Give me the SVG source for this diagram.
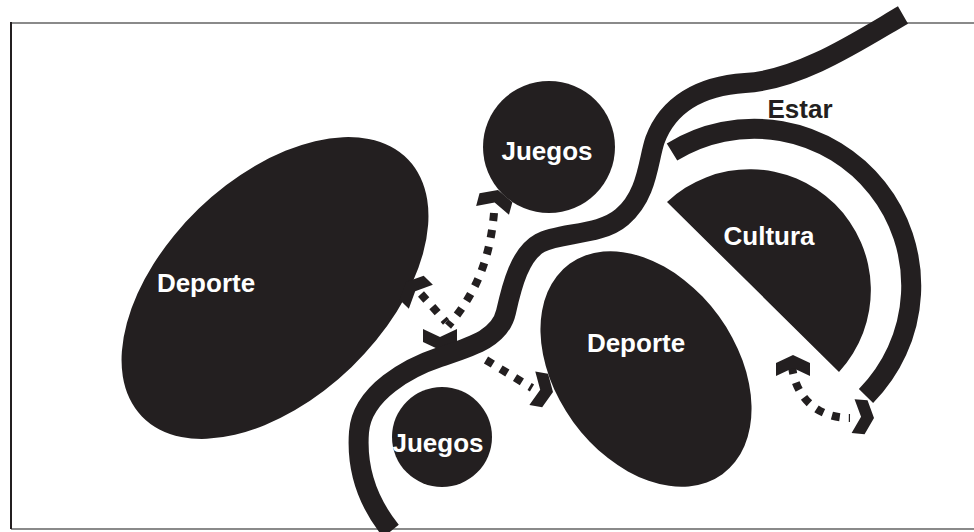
<svg xmlns="http://www.w3.org/2000/svg" xmlns:xlink="http://www.w3.org/1999/xlink" width="974" height="532" viewBox="0 0 974 532">
<style>
.shape{fill:#231f20}
.band{fill:none;stroke:#231f20;stroke-width:20;stroke-linecap:butt}
.dots{fill:none;stroke:#231f20;stroke-width:8;stroke-dasharray:8 9;stroke-linecap:butt}
.lbl{font-family:"Liberation Sans",Arial,sans-serif;font-weight:bold;font-size:26px;text-anchor:middle}
.w{fill:#ffffff}
.d{fill:#231f20}
</style>
<defs>
<path id="chev" d="M0,0 L17,8 L17,21 L0,13 L-17,21 L-17,8 Z" fill="#231f20"/>
</defs>
<rect x="0" y="0" width="974" height="532" fill="#ffffff"/>
<g id="frame">
<line x1="11" y1="23" x2="974" y2="23" stroke="#8a8a8a" stroke-width="2"/>
<line x1="11" y1="529" x2="974" y2="529" stroke="#8a8a8a" stroke-width="2"/>
<line x1="11" y1="22" x2="11" y2="529" stroke="#231f20" stroke-width="2"/>
</g>
<g id="deporte-left">
<ellipse class="shape" cx="275" cy="288" rx="185" ry="110" transform="rotate(-44 275 288)"/>
<text class="lbl w" x="206" y="292">Deporte</text>
</g>
<g id="deporte-right">
<ellipse class="shape" cx="646" cy="369" rx="130" ry="90" transform="rotate(54 646 369)"/>
<text class="lbl w" x="636" y="352">Deporte</text>
</g>
<g id="juegos-top">
<circle class="shape" cx="549" cy="147" r="66"/>
<text class="lbl w" x="547" y="160">Juegos</text>
</g>
<g id="juegos-bottom">
<circle class="shape" cx="442" cy="437" r="50"/>
<text class="lbl w" x="438" y="452">Juegos</text>
</g>
<g id="cultura">
<path class="shape" d="M667,202 A121,121 0 0 1 839,372 Z"/>
<text class="lbl w" x="769" y="245">Cultura</text>
</g>
<g id="estar">
<path class="band" d="M672,152 A157,157 0 0 1 866,396"/>
<text class="lbl d" x="800" y="118">Estar</text>
</g>
<g id="connectors">
<path class="dots" d="M494,213 C490,260 475,295 448,326"/>
<path class="dots" d="M421,294 L446,322"/>
<path class="dots" d="M486,360 L532,388"/>
<path class="dots" d="M792,366 C795,395 815,418 850,418"/>
<use xlink:href="#chev" transform="translate(498,190) rotate(15)"/>
<use xlink:href="#chev" transform="translate(406,282) rotate(-45)"/>
<use xlink:href="#chev" transform="translate(440,350) rotate(180)"/>
<use xlink:href="#chev" transform="translate(553,392) rotate(100)"/>
<use xlink:href="#chev" transform="translate(793,355)"/>
<use xlink:href="#chev" transform="translate(874,418) rotate(95)"/>
</g>
<g id="river">
<path class="band" d="M903,15 C860,40 800,80 745,83 C700,86 668,105 655,140 C648,160 648,195 622,217 C600,236 560,232 540,243 C520,254 512,285 506,312 C500,339 470,347 440,357 C410,367 362,392 359,432 C356,472 370,505 391,531"/>
</g>
</svg>
